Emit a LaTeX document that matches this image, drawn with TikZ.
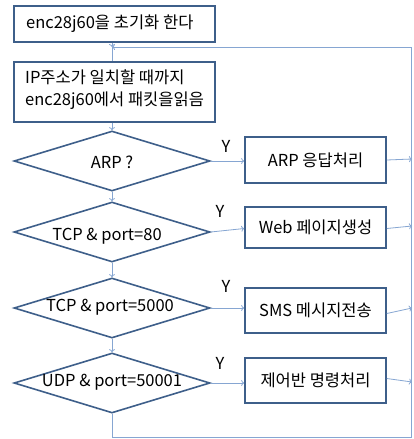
\documentclass[tikz,border=0pt]{standalone}
\usepackage{fontspec}
\setmainfont{Noto Sans CJK KR}
\usetikzlibrary{shapes.geometric,arrows.meta}
\definecolor{bord}{HTML}{3E5F8A}
\definecolor{conn}{HTML}{86A6D2}
\begin{document}
\begin{tikzpicture}[x=1pt,y=-1pt,
  every node/.style={font=\fontsize{16.5}{22}\selectfont, text=black},
  procbox/.style={draw=bord, line width=1.6pt, minimum width=141pt, minimum height=44pt, inner sep=0pt},
  mainbox/.style={draw=bord, line width=1.6pt, inner sep=0pt},
  decide/.style={draw=bord, line width=1.6pt, diamond, minimum width=196pt, minimum height=60pt, inner sep=0pt},
  flow/.style={draw=conn, line width=0.8pt, -{To[length=3pt,width=6pt]}},
  plain/.style={draw=conn, line width=0.8pt},
  ylab/.style={inner sep=0pt}]
\useasboundingbox (0,0) rectangle (414,439);
\fill[white] (0,0) rectangle (414,439);
% main boxes
\node[mainbox, minimum width=201pt, minimum height=36pt] (b1) at (114.5,24) {};
\node[anchor=west, inner sep=0pt] (t1) at (26,24) {enc28j60을 초기화 한다};
\node[mainbox, minimum width=201pt, minimum height=60pt] (b2) at (114.5,92) {};
\node[anchor=west, inner sep=0pt, align=left] (t2) at (25,90) {IP주소가 일치할 때까지\\enc28j60에서 패킷을읽음};
% diamonds
\node[decide] (d1) at (112,161) {};
\node[inner sep=0pt] (dt1) at (112,162) {ARP ?};
\node[decide] (d2) at (112,232) {};
\node[inner sep=0pt] (dt2) at (107,236) {TCP \& port=80};
\node[decide] (d3) at (112,308) {};
\node[inner sep=0pt] (dt3) at (110,307) {TCP \& port=5000};
\node[decide] (d4) at (112,383) {};
\node[inner sep=0pt] (dt4) at (112,382) {UDP \& port=50001};
% process boxes
\node[procbox, minimum height=46pt] (p1) at (315.5,160) {ARP 응답처리};
\node[procbox, minimum height=41pt] (p2) at (315.5,227.5) {Web 페이지생성};
\node[procbox, minimum height=45pt] (p3) at (315.5,310.5) {SMS 메시지전송};
\node[procbox, minimum height=45pt] (p4) at (315.5,380.5) {제어반 명령처리};
% Y labels
\node[ylab] (y1) at (226,146) {Y};
\node[ylab] (y2) at (220,211) {Y};
\node[ylab] (y3) at (226,286) {Y};
\node[ylab] (y4) at (220,363) {Y};
% coordinates
\coordinate (o1) at (412,159);
\coordinate (o2) at (412,226);
\coordinate (o3) at (412,308);
\coordinate (o4) at (412,382);
\coordinate (loopbl) at (112,437);
\coordinate (loopbr) at (411,437);
\coordinate (looptr) at (411,47);
\coordinate (looptl) at (112,47);
% vertical flow
\draw[flow] (b1.south -| d1.north) -- (looptl);
\draw[plain] (looptl) -- (b2.north -| d1.north);
\draw[flow] (b2.south -| d1.north) -- (d1.north);
\draw[flow] (d1.south) -- (d2.north);
\draw[flow] (d2.south) -- (d3.north);
\draw[flow] (d3.south) -- (d4.north);
% yes branches
\draw[flow] (d1.east) -- (p1.west |- d1.east);
\draw[flow] (d2.east) -- ([yshift=-1pt]p2.west);
\draw[flow] (d3.east) -- (p3.west |- d3.east);
\draw[flow] (d4.east) -- (p4.west |- d4.east);
% outputs
\draw[flow] (p1.east) -- (o1);
\draw[flow] ([yshift=-1pt]p2.east) -- (o2);
\draw[flow] ([yshift=-3pt]p3.east) -- (o3);
\draw[flow] ([yshift=2pt]p4.east) -- (o4);
% loop back
\draw[plain] (d4.south) -- (loopbl) -- (loopbr) -- (looptr);
\draw[flow] (looptr) -- (looptl);
\end{tikzpicture}
\end{document}
